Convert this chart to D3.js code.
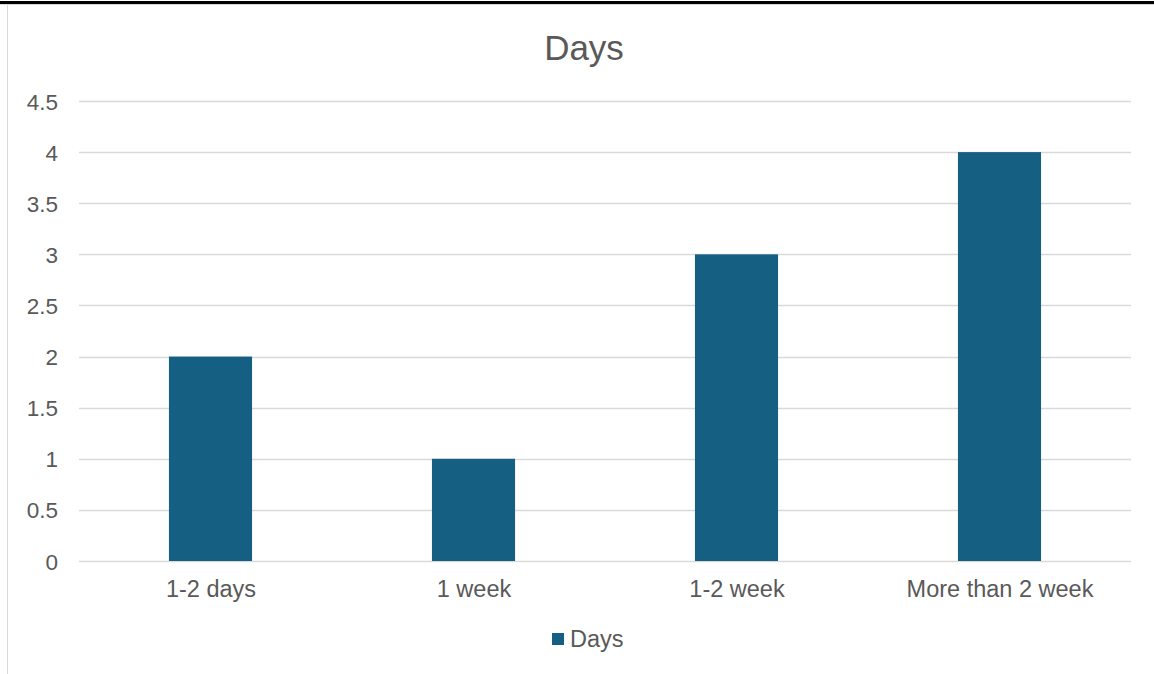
<!DOCTYPE html>
<html><head><meta charset="utf-8">
<script src="https://cdn.jsdelivr.net/npm/d3@7"></script>
<style>html,body{margin:0;padding:0;background:#fff;}svg{display:block;}</style>
</head><body>
<script>
const categories = ["1-2 days", "1 week", "1-2 week", "More than 2 week"];
const values = [2, 1, 3, 4];
const yTicks = [0, 0.5, 1, 1.5, 2, 2.5, 3, 3.5, 4, 4.5];
const seriesName = "Days";
const chartTitle = "Days";

(function () {
const W = 1154, H = 674;
const svg = d3.select("body").append("svg").attr("width", W).attr("height", H);
const font = "Liberation Sans, Arial, sans-serif";
const textColor = "#595959";

// frame decorations
svg.append("rect").attr("x", 0).attr("y", 1).attr("width", W).attr("height", 3).attr("fill", "#000");
svg.append("line").attr("x1", 0).attr("x2", W).attr("y1", 4.5).attr("y2", 4.5).attr("stroke", "#d9d9d9");
svg.append("line").attr("x1", 7.5).attr("x2", 7.5).attr("y1", 4).attr("y2", H).attr("stroke", "#d9d9d9");

const pLeft = 79, pRight = 1131, pTop = 101, pBottom = 561;
const x = d3.scaleBand().domain(categories).range([pLeft, pRight]).paddingInner(0.684).paddingOuter(0.342);
const y = d3.scaleLinear().domain([0, 4.5]).range([pBottom, pTop]);

// gridlines
svg.append("g").selectAll("line").data(yTicks).join("line")
  .attr("x1", pLeft).attr("x2", pRight)
  .attr("y1", d => Math.round(y(d)) + 0.5).attr("y2", d => Math.round(y(d)) + 0.5)
  .attr("stroke", "#d9d9d9").attr("stroke-width", 1.5);

// y axis labels
const yAxis = d3.axisLeft(y).tickValues(yTicks).tickSize(0).tickPadding(0).tickFormat(d => String(d));
const gy = svg.append("g").attr("transform", `translate(58,0)`).call(yAxis);
gy.select(".domain").remove();
gy.selectAll("text").attr("fill", textColor).style("font-family", font).style("font-size", "22.5px").attr("dy", "0.36em");

// bars
svg.append("g").selectAll("rect").data(values).join("rect")
  .attr("x", (d, i) => x(categories[i]))
  .attr("width", x.bandwidth())
  .attr("y", d => y(d))
  .attr("height", d => y(0) - y(d))
  .attr("fill", "#156082");

// x axis labels
const xAxis = d3.axisBottom(d3.scalePoint().domain(categories).range([pLeft + (pRight-pLeft)/8, pRight - (pRight-pLeft)/8])).tickSize(0).tickPadding(0);
const gx = svg.append("g").attr("transform", `translate(0,597)`).call(xAxis);
gx.select(".domain").remove();
gx.selectAll("text").attr("fill", textColor).style("font-family", font).style("font-size", "23.5px").attr("dy", "0");

// title
svg.append("text").attr("x", 584).attr("y", 60).attr("text-anchor", "middle")
  .attr("fill", textColor).style("font-family", font).style("font-size", "35px").text(chartTitle);

// legend
const lg = svg.append("g");
lg.append("rect").attr("x", 552).attr("y", 633).attr("width", 12).attr("height", 12).attr("fill", "#156082");
lg.append("text").attr("x", 570).attr("y", 647).attr("fill", textColor).style("font-family", font).style("font-size", "23.5px").text(seriesName);
})();
</script>
</body></html>
